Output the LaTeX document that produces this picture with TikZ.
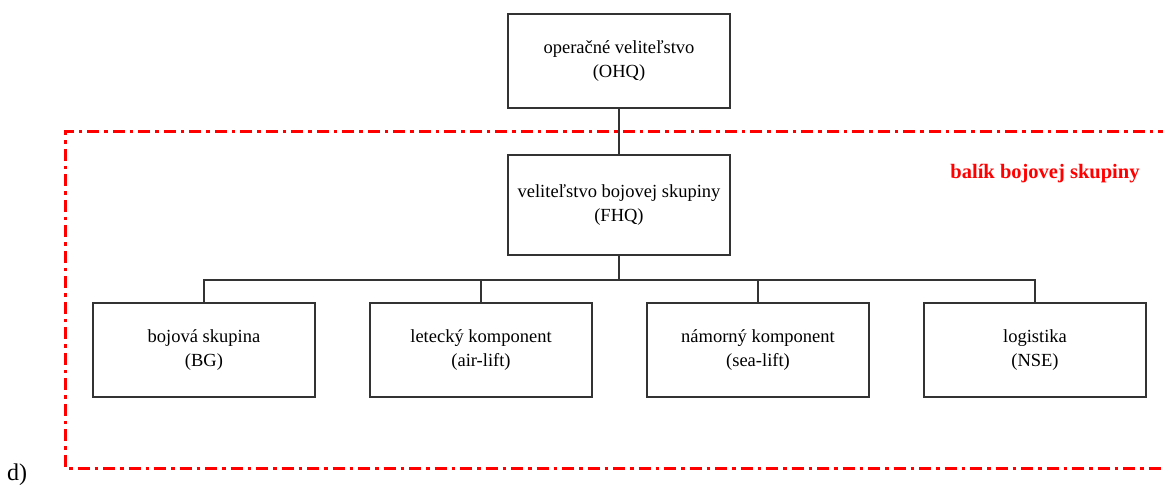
\documentclass[tikz,border=0pt]{standalone}
\usepackage{fontspec}
\setmainfont{Liberation Serif}
\begin{document}
\begin{tikzpicture}[x=1pt,y=-1pt,
  unit/.style={draw=black!80, line width=1.6pt, minimum width=222pt, minimum height=94pt, align=center, inner sep=0pt, font=\fontsize{18.5}{24}\selectfont},
  link/.style={draw=black!80, line width=1.6pt},
  pkg/.style={draw=red, line width=3pt, dash pattern=on 12pt off 5pt on 3.5pt off 5pt}]
\useasboundingbox (0,0) rectangle (1163,486);
\node[unit] (ohq) at (619,61) {operačné veliteľstvo\\(OHQ)};
\node[unit, minimum height=100pt] (fhq) at (619,205) {veliteľstvo bojovej skupiny\\(FHQ)};
\node[unit] (bg) at (204,350) {bojová skupina\\(BG)};
\node[unit] (air) at (481,350) {letecký komponent\\(air-lift)};
\node[unit] (sea) at (758,350) {námorný komponent\\(sea-lift)};
\node[unit] (nse) at (1035,350) {logistika\\(NSE)};
\coordinate (bus) at (619,280);
\draw[link] (ohq.south) -- (fhq.north);
\draw[link] (fhq.south) -- (bus);
\draw[link] (bg.north) |- (bus) -| (nse.north);
\draw[link] (air.north) -- (air.north |- bus);
\draw[link] (sea.north) -- (sea.north |- bus);
\coordinate (tr) at (1170,132);
\coordinate (tl) at (65,132);
\coordinate (bl) at (65,468);
\coordinate (br) at (1170,468);
\draw[pkg] (tr) -- (tl) -- (bl) -- (br);
\node[text=red, font=\fontsize{20.5}{24}\selectfont\bfseries] (lbl) at (1045,174) {balík bojovej skupiny};
\node[font=\fontsize{24}{28}\selectfont, anchor=base west, inner sep=0pt] (d) at (7,480) {d)};
\end{tikzpicture}
\end{document}
